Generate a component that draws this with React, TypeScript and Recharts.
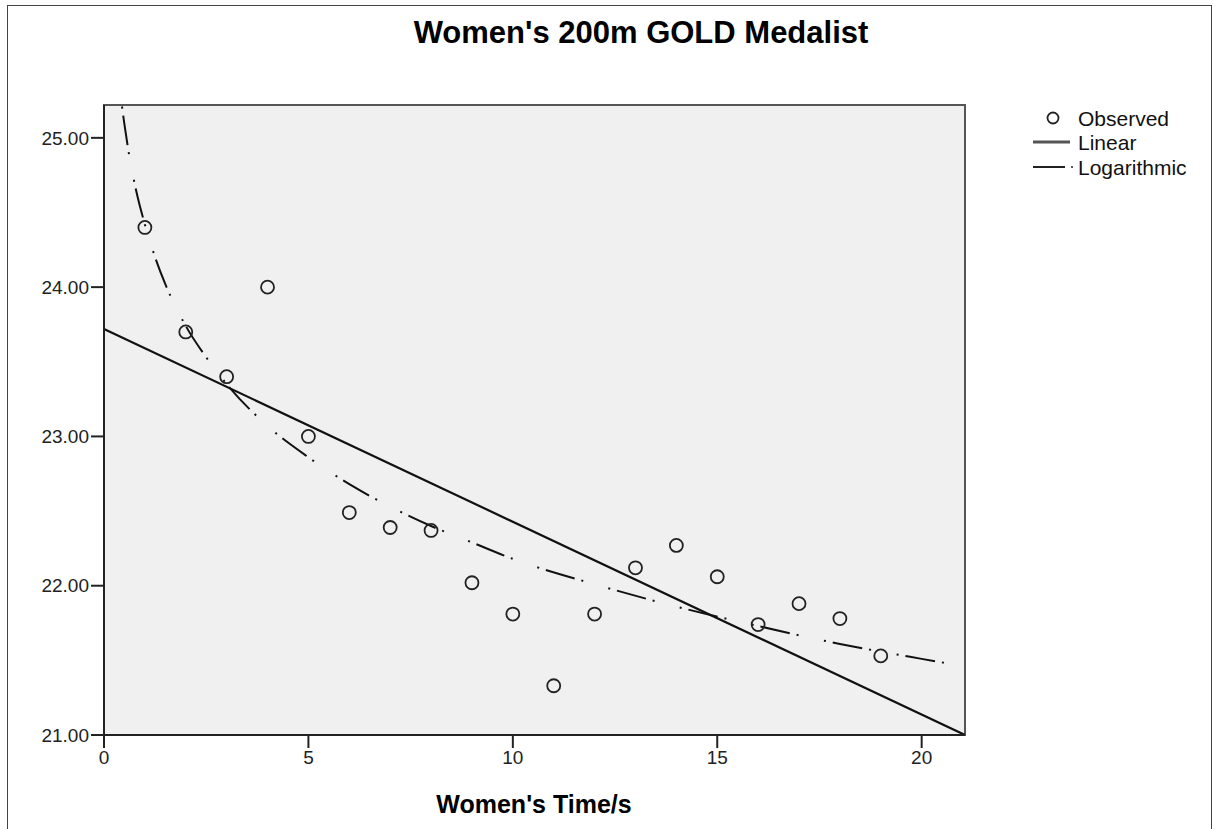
import React from "react";
import {
  ComposedChart,
  XAxis,
  YAxis,
  Line,
  Scatter,
  CartesianGrid,
  ReferenceArea,
  Legend,
} from "recharts";

// Observed values (x = index, y = time in seconds)
const observedX = [1, 2, 3, 4, 5, 6, 7, 8, 9, 10, 11, 12, 13, 14, 15, 16, 17, 18, 19];
const observedY = [24.4, 23.7, 23.4, 24.0, 23.0, 22.49, 22.39, 22.37, 22.02, 21.81, 21.33, 21.81, 22.12, 22.27, 22.06, 21.74, 21.88, 21.78, 21.53];

// Linear fit line, read at both ends of the plot
const linearX = [0, 21.06];
const linearY = [23.72, 21.0];

// Logarithmic fit curve
const logX = [0.44, 0.5, 0.6, 0.8, 1, 1.25, 1.5, 2, 2.5, 3, 4, 5, 6, 7, 8, 9, 10, 12, 14, 16, 18, 20, 21.06];
const logY = [25.21, 25.09, 24.91, 24.63, 24.42, 24.2, 24.02, 23.74, 23.53, 23.35, 23.07, 22.86, 22.68, 22.53, 22.4, 22.29, 22.18, 22.01, 21.86, 21.73, 21.61, 21.51, 21.46];

const xTicks = [0, 5, 10, 15, 20];
const yTicks = [21, 22, 23, 24, 25];
const xDomain: [number, number] = [0, 21.06];
const yDomain: [number, number] = [21, 25.22];

const title = "Women's 200m GOLD Medalist";
const xLabel = "Women's Time/s";
const legendNames = ["Observed", "Linear", "Logarithmic"];

const observedData = observedX.map((x, i) => ({ x, y: observedY[i] }));
const linearData = linearX.map((x, i) => ({ x, y: linearY[i] }));
const logData = logX.map((x, i) => ({ x, y: logY[i] }));

const FONT = "Arial, 'Liberation Sans', Helvetica, sans-serif";

const CircleShape = (props: any) => {
  const { cx, cy } = props;
  if (cx == null || cy == null) return null;
  return <circle cx={cx} cy={cy} r={6.5} fill="none" stroke="#222" strokeWidth={1.8} />;
};

const LegendContent = () => (
  <svg width={180} height={80} style={{ fontFamily: FONT, display: "block" }}>
    <circle cx={23} cy={10} r={5.5} fill="none" stroke="#222" strokeWidth={1.8} />
    <text x={48} y={10} dominantBaseline="central" fontSize={21} fill="#111">{legendNames[0]}</text>
    <line x1={3} y1={34} x2={40} y2={34} stroke="#555" strokeWidth={3} />
    <text x={48} y={34} dominantBaseline="central" fontSize={21} fill="#111">{legendNames[1]}</text>
    <line x1={3} y1={59} x2={35} y2={59} stroke="#222" strokeWidth={2} />
    <circle cx={42} cy={59} r={1} fill="#222" />
    <text x={48} y={59} dominantBaseline="central" fontSize={21} fill="#111">{legendNames[2]}</text>
  </svg>
);

export default function App() {
  return (
    <div
      style={{
        position: "absolute",
        left: 0,
        top: 0,
        width: 1213,
        height: 829,
        background: "#fff",
        fontFamily: FONT,
        overflow: "hidden",
      }}
    >
      <div
        style={{
          position: "absolute",
          left: 7,
          top: 5,
          width: 1205,
          height: 840,
          border: "1px solid #444",
          boxSizing: "border-box",
        }}
      />
      <div style={{ position: "absolute", left: 0, top: 0 }}>
        <ComposedChart
          width={1213}
          height={829}
          margin={{ top: 105, right: 68, bottom: 54, left: 34 }}
        >
          <CartesianGrid fill="#f0f0f0" horizontal={false} vertical={false} stroke="none" />
          <ReferenceArea
            x1={xDomain[0]}
            x2={xDomain[1]}
            y1={yDomain[0]}
            y2={yDomain[1]}
            fill="none"
            stroke="#555"
            strokeWidth={2}
            ifOverflow="visible"
          />
          <XAxis
            type="number"
            dataKey="x"
            domain={xDomain}
            ticks={xTicks}
            allowDataOverflow
            height={40}
            tickSize={13}
            tickMargin={3}
            tickLine={{ stroke: "#222", strokeWidth: 2 }}
            axisLine={{ stroke: "#222", strokeWidth: 2 }}
            tick={{ fontSize: 19, fill: "#222", fontFamily: FONT }}
          />
          <YAxis
            type="number"
            dataKey="y"
            domain={yDomain}
            ticks={yTicks}
            allowDataOverflow
            width={70}
            tickSize={13}
            tickMargin={2}
            tickLine={{ stroke: "#222", strokeWidth: 2 }}
            axisLine={{ stroke: "#222", strokeWidth: 2 }}
            tick={{ fontSize: 19, fill: "#222", fontFamily: FONT }}
            tickFormatter={(v: number) => v.toFixed(2)}
          />
          <Line
            data={linearData}
            dataKey="y"
            type="linear"
            stroke="#111"
            strokeWidth={2.2}
            dot={false}
            activeDot={false}
            isAnimationActive={false}
            name={legendNames[1]}
          />
          <Line
            data={logData}
            dataKey="y"
            type="monotone"
            stroke="#111"
            strokeWidth={2}
            strokeDasharray="2 7 30 7 2 26"
            dot={false}
            activeDot={false}
            isAnimationActive={false}
            name={legendNames[2]}
          />
          <Scatter
            data={observedData}
            dataKey="y"
            shape={CircleShape}
            isAnimationActive={false}
            name={legendNames[0]}
          />
          <Legend
            layout="vertical"
            align="right"
            verticalAlign="top"
            content={LegendContent}
            wrapperStyle={{ position: "absolute", left: 1030, top: 108, width: 180 }}
          />
        </ComposedChart>
      </div>
      <svg
        width={1213}
        height={829}
        style={{ position: "absolute", left: 0, top: 0, pointerEvents: "none" }}
      >
        <text
          x={641}
          y={43}
          textAnchor="middle"
          fontSize={31}
          fontWeight="bold"
          fill="#000"
          fontFamily={FONT}
        >
          {title}
        </text>
        <text
          x={534}
          y={813}
          textAnchor="middle"
          fontSize={25}
          fontWeight="bold"
          fill="#000"
          fontFamily={FONT}
        >
          {xLabel}
        </text>
      </svg>
    </div>
  );
}
